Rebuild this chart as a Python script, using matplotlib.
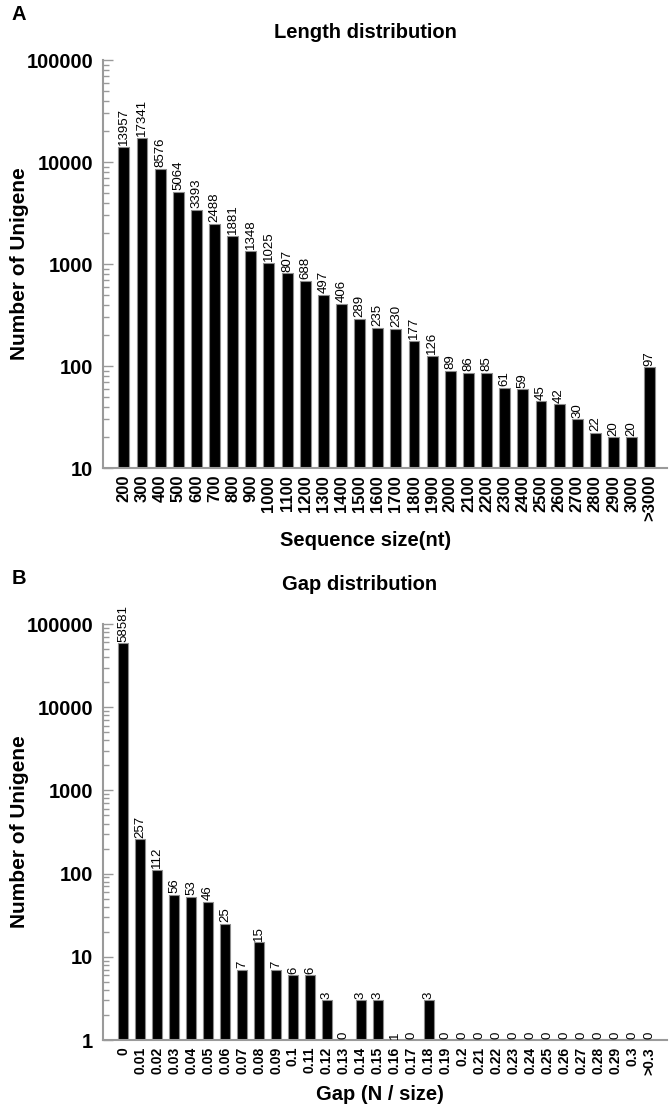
import matplotlib
matplotlib.use("Agg")
import matplotlib.pyplot as plt
from matplotlib.ticker import LogLocator, NullFormatter, FuncFormatter
import numpy as np

plt.rcParams['font.family'] = ['Liberation Sans', 'DejaVu Sans']

# ---- data ----
length_cats = ['200', '300', '400', '500', '600', '700', '800', '900', '1000',
               '1100', '1200', '1300', '1400', '1500', '1600', '1700', '1800',
               '1900', '2000', '2100', '2200', '2300', '2400', '2500', '2600',
               '2700', '2800', '2900', '3000', '>3000']
length_counts = [13957, 17341, 8576, 5064, 3393, 2488, 1881, 1348, 1025, 807,
                 688, 497, 406, 289, 235, 230, 177, 126, 89, 86, 85, 61, 59,
                 45, 42, 30, 22, 20, 20, 97]

gap_cats = ['0', '0.01', '0.02', '0.03', '0.04', '0.05', '0.06', '0.07', '0.08',
            '0.09', '0.1', '0.11', '0.12', '0.13', '0.14', '0.15', '0.16', '0.17',
            '0.18', '0.19', '0.2', '0.21', '0.22', '0.23', '0.24', '0.25', '0.26',
            '0.27', '0.28', '0.29', '0.3', '>0.3']
gap_counts = [58581, 257, 112, 56, 53, 46, 25, 7, 15, 7, 6, 6, 3, 0, 3, 3, 1, 0,
              3, 0, 0, 0, 0, 0, 0, 0, 0, 0, 0, 0, 0, 0]

SPINE = '#9a9a9a'

fig = plt.figure(figsize=(6.72, 11.11), dpi=100)
W, H = 672, 1111


def make_panel(rect, cats, counts, ymin, ymax, xlim, xfs, width):
    ax = fig.add_axes(rect)
    x = np.arange(len(cats))
    vals = np.array(counts, dtype=float)
    mask = vals > 0
    ax.bar(x[mask], vals[mask], width=width, color='black',
           edgecolor='#8c8c8c', linewidth=0.8, log=True)
    ax.set_yscale('log')
    ax.set_ylim(ymin, ymax)
    ax.set_xlim(*xlim)
    for xi, v in zip(x, counts):
        y = max(v, ymin) * 1.04
        ax.text(xi, y, str(v), rotation=90, ha='center', va='bottom',
                fontsize=9.5, color='black')
    ax.set_xticks(x)
    ax.set_xticklabels(cats, rotation=90, fontsize=xfs, fontweight='bold')
    ax.tick_params(axis='x', length=0, pad=5)
    ax.yaxis.set_major_locator(LogLocator(base=10, numticks=10))
    ax.yaxis.set_minor_locator(LogLocator(base=10, subs=np.arange(2, 10), numticks=12))
    ax.yaxis.set_minor_formatter(NullFormatter())
    ax.yaxis.set_major_formatter(FuncFormatter(lambda v, p: f"{int(round(v))}"))
    ax.tick_params(axis='y', which='major', direction='in', length=7, width=1,
                   color=SPINE, labelsize=14.5, pad=7)
    ax.tick_params(axis='y', which='minor', direction='in', length=4, width=1,
                   color=SPINE)
    for s in ['top', 'right']:
        ax.spines[s].set_visible(False)
    for s in ['left', 'bottom']:
        ax.spines[s].set_color(SPINE)
        ax.spines[s].set_linewidth(1.5)
    return ax


# Panel A
axA = make_panel([103 / W, 1 - 468 / H, 564 / W, 408 / H], length_cats, length_counts,
                 10, 100000, (-1.15, 29.95), 12, 0.6)
# Panel B
axB = make_panel([103 / W, 1 - 1040 / H, 564 / W, 416 / H], gap_cats, gap_counts,
                 1, 100000, (-1.2, 32.05), 10, 0.6)

for ax in (axA, axB):
    for lab in ax.get_yticklabels():
        lab.set_fontweight('bold')

fig.text(12 / W, 1 - 15 / H, 'A', fontsize=14.5, fontweight='bold', ha='left', va='center')
fig.text(365 / W, 1 - 33 / H, 'Length distribution', fontsize=14.5, fontweight='bold',
         ha='center', va='center')
fig.text(366 / W, 1 - 540 / H, 'Sequence size(nt)', fontsize=14.5, fontweight='bold',
         ha='center', va='center')
fig.text(20 / W, 1 - 264 / H, 'Number of Unigene', fontsize=15, fontweight='bold',
         ha='center', va='center', rotation=90)

fig.text(12 / W, 1 - 578 / H, 'B', fontsize=14.5, fontweight='bold', ha='left', va='center')
fig.text(360 / W, 1 - 585 / H, 'Gap distribution', fontsize=14.5, fontweight='bold',
         ha='center', va='center')
fig.text(380 / W, 1 - 1095 / H, 'Gap (N / size)', fontsize=14.5, fontweight='bold',
         ha='center', va='center')
fig.text(20 / W, 1 - 832 / H, 'Number of Unigene', fontsize=15, fontweight='bold',
         ha='center', va='center', rotation=90)

fig.savefig('out.png', dpi=100, facecolor='white')
